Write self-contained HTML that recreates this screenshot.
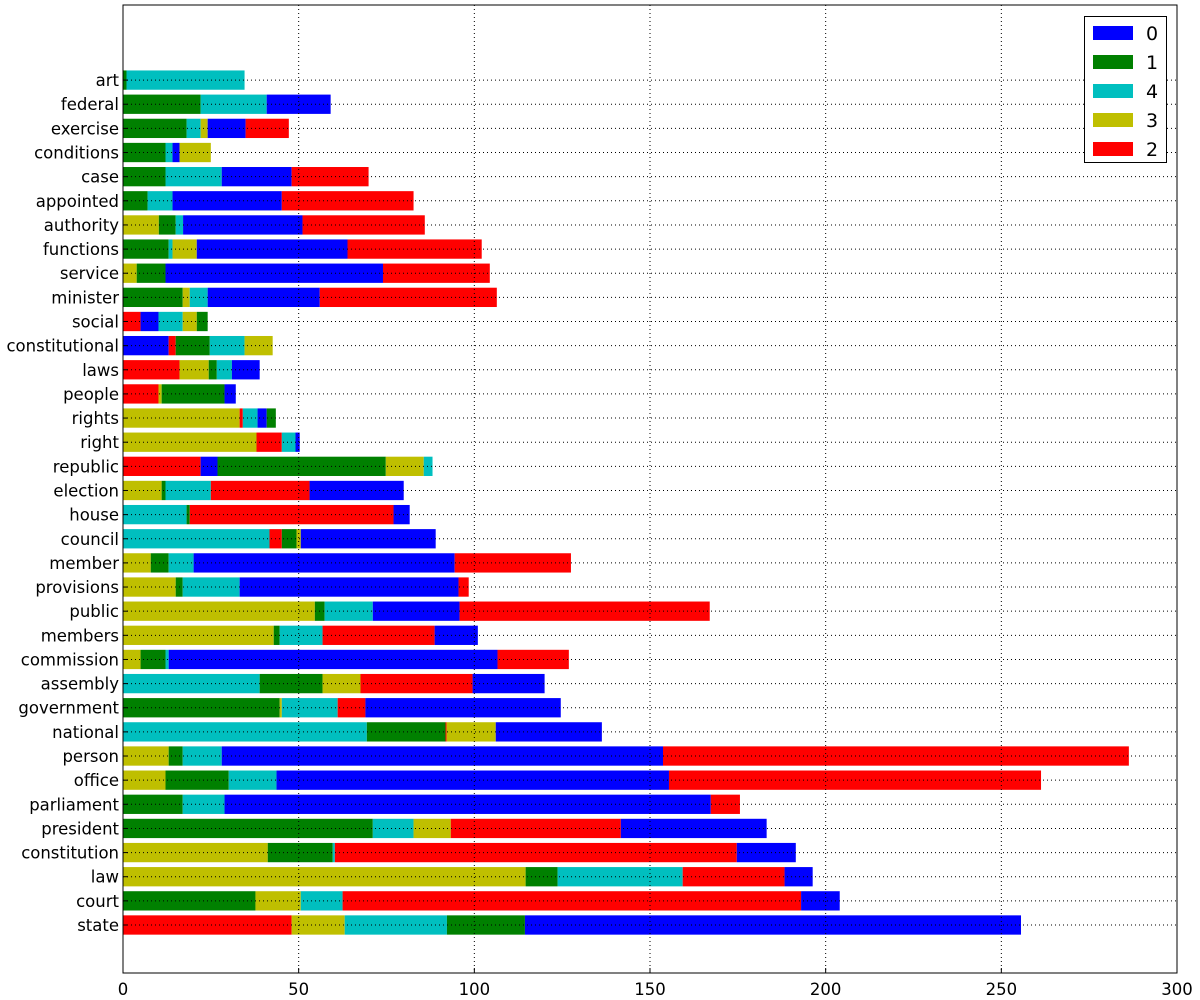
<!DOCTYPE html>
<html><head><meta charset="utf-8"><style>
body{margin:0;background:#fff;}
svg{display:block;font-family:"DejaVu Sans","Liberation Sans",sans-serif;}
</style></head><body>
<svg id="chart" width="1200" height="1000" viewBox="0 0 1200 1000"></svg>
<script>
const categories=["art","federal","exercise","conditions","case","appointed","authority","functions","service","minister","social","constitutional","laws","people","rights","right","republic","election","house","council","member","provisions","public","members","commission","assembly","government","national","person","office","parliament","president","constitution","law","court","state"];
const series0=[0,18.2,10.8,2,19.9,31.1,34,42.9,61.9,31.9,5.1,13,7.9,3.2,2.6,1.2,4.8,26.8,4.6,38.4,74.3,62.3,24.7,12.3,93.6,20.5,55.6,30.2,125.6,111.7,138.4,41.5,16.8,8,11,141.2];
const series1=[1,22.1,18.1,12.1,12.1,7,4.8,13,8.2,17,3.1,9.7,2.3,17.9,2.6,0,47.9,1.1,0.9,4.2,5.1,2,2.8,1.7,7.1,17.9,44.6,22.4,4,18,17,71.1,18.5,9.1,37.7,22.2];
const series4=[33.6,18.8,4,2,16,7.1,2.1,1.1,0,5.1,6.9,9.9,4.3,0,4.2,3.9,2.5,12.9,18.1,41.7,7.1,16.2,13.7,12.2,0.9,38.9,15.9,69.4,11.1,13.6,11.9,11.6,0.6,35.6,11.9,29.1];
const series3=[0,0,2,8.9,0,0,10.2,6.9,3.9,2,4,8,8.3,0.9,33.2,38,10.8,11,0,1.2,7.9,15,54.6,42.9,5,10.8,0.6,14,13,12.1,0,10.6,41.2,114.6,12.9,15.1];
const series2=[0,0,12.3,0,21.9,37.5,34.8,38.2,30.4,50.4,5,2,16.1,10.1,0.9,7.2,22.1,28.1,58,3.5,33.1,2.9,71.2,31.9,20.3,31.9,7.9,0.3,132.6,105.9,8.3,48.4,114.4,29,130.5,48];
const stackOrder=["14","140","14302","1403","1402","1402","31402","14302","3102","13402","20431","02143","23140","2310","32401","3240","20134","31420","4120","42130","31402","31402","31402","31420","31402","41320","13420","41230","31402","31402","1402","14320","31420","31420","13420","23410"];
const xTicks=[0,50,100,150,200,250,300];
const legendKeys=["0","1","4","3","2"];
const NS="http://www.w3.org/2000/svg";
const svg=document.getElementById("chart");
const X0=123,X1=1177,Y0=5,Y1=973,XMAX=300;
const xs=v=>X0+v*(X1-X0)/XMAX;
const n=categories.length;
const yc=i=>925-(n-1-i)*24.14;
const seriesVals={"0":series0,"1":series1,"4":series4,"3":series3,"2":series2};
const colors={"0":"#0000ff","1":"#008000","4":"#00bfbf","3":"#bfbf00","2":"#ff0000"};
function mk(tag,attrs){const e=document.createElementNS(NS,tag);for(const k in attrs)e.setAttribute(k,attrs[k]);svg.appendChild(e);return e;}
categories.forEach((c,i)=>{
  let left=0;
  for(const k of stackOrder[i]){
    const v=seriesVals[k][i];
    if(v>0){
      const r=mk("rect",{x:xs(left),y:yc(i)-9.65,width:xs(left+v)-xs(left),height:19.3,fill:colors[k]});
      
      
    }
    left+=v;
  }
});
xTicks.forEach(t=>{
  if(t>0&&t<XMAX){const g=mk("line",{x1:xs(t),x2:xs(t),y1:Y0,y2:Y1,stroke:"#000","stroke-width":1,"stroke-dasharray":"1,3"});
  
  }
  const tk=mk("line",{x1:xs(t),x2:xs(t),y1:Y1,y2:Y1-5,stroke:"#000"});
  
  
  const tl=mk("text",{x:xs(t),y:Y1+22,"text-anchor":"middle","font-size":16.5});
  tl.textContent=t;
  
  
});
categories.forEach((c,i)=>{
  const g=mk("line",{x1:X0,x2:X1,y1:yc(i),y2:yc(i),stroke:"#000","stroke-width":1,"stroke-dasharray":"1,3"});
  
  
  const tk=mk("line",{x1:X0,x2:X0+5,y1:yc(i),y2:yc(i),stroke:"#000"});
  
  
  const tl=mk("text",{x:X0-4,y:yc(i)+6,"text-anchor":"end","font-size":16.5});
  tl.textContent=c;
  
  
});
const frame=mk("rect",{x:X0,y:Y0,width:X1-X0,height:Y1-Y0,fill:"none",stroke:"#000","stroke-width":1});


const lg=mk("rect",{x:1084.5,y:16.5,width:82,height:146,fill:"#fff",stroke:"#000"});


legendKeys.forEach((k,j)=>{
  const cy=33+j*29;
  const p=mk("rect",{x:1093,y:cy-7,width:40,height:14,fill:colors[k]});
  
  
  const t=mk("text",{x:1146,y:cy+7,"font-size":19});
  t.textContent=k;
  
  
});
</script>
</body></html>
